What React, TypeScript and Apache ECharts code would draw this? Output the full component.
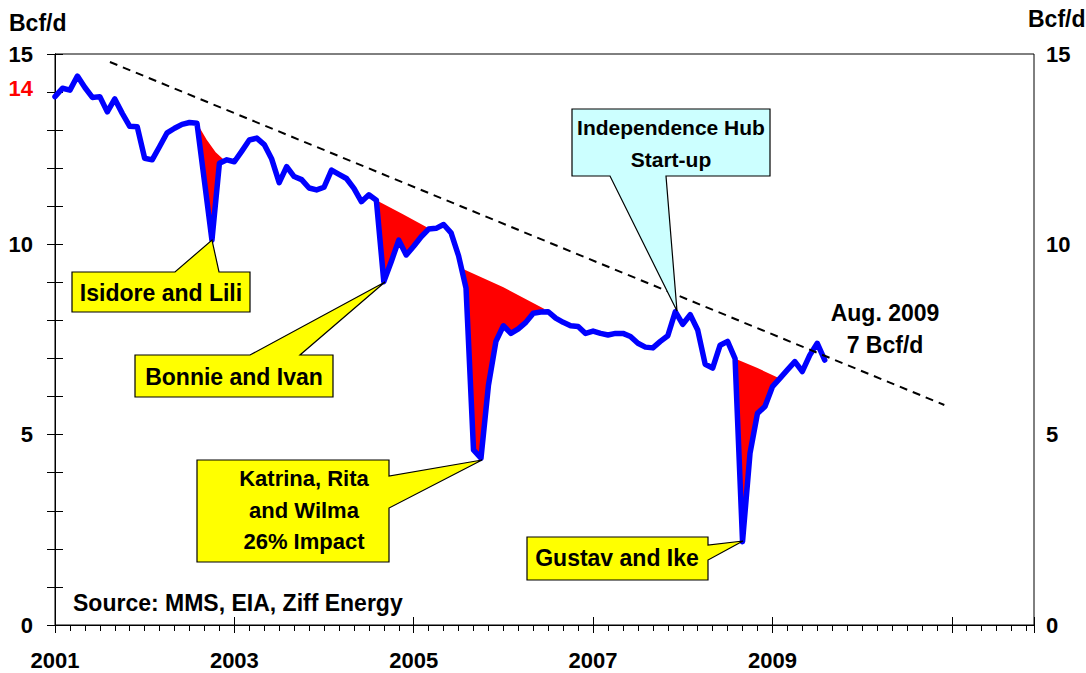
import { useEffect, useRef } from 'react';
import * as echarts from 'echarts';

// Monthly Gulf of Mexico gas production, Bcf/d, Jan 2001 .. Aug 2009 (month index 0 = Jan 2001)
const production = [
  13.88, 14.10, 14.05, 14.42, 14.12, 13.86, 13.88, 13.48, 13.82, 13.44, 13.10, 13.09, // 2001
  12.26, 12.22, 12.57, 12.93, 13.05, 13.15, 13.20, 13.18, 11.65, 10.11, 12.13, 12.22, // 2002
  12.17, 12.45, 12.74, 12.79, 12.62, 12.24, 11.62, 12.04, 11.78, 11.70, 11.48, 11.43, // 2003
  11.50, 11.95, 11.84, 11.73, 11.47, 11.12, 11.30, 11.16, 9.02, 9.55, 10.11, 9.72, // 2004
  9.95, 10.20, 10.40, 10.42, 10.52, 10.30, 9.70, 8.85, 4.60, 4.38, 6.30, 7.45, // 2005
  7.86, 7.66, 7.78, 7.95, 8.19, 8.22, 8.23, 8.06, 7.95, 7.86, 7.84, 7.66, // 2006
  7.72, 7.66, 7.62, 7.66, 7.66, 7.58, 7.40, 7.30, 7.28, 7.45, 7.60, 8.23, // 2007
  7.90, 8.15, 7.75, 6.85, 6.75, 7.35, 7.45, 7.00, 2.19, 4.51, 5.56, 5.74, // 2008
  6.26, 6.48, 6.70, 6.92, 6.66, 7.09, 7.40, 6.96, // 2009
];

const yearLabels = ['2001', '2003', '2005', '2007', '2009'];

// dashed decline trend: [month index, Bcf/d]
const trendLine = [
  [7.35, 14.79],
  [119, 5.78],
];

// upper edges of the hurricane production losses (red areas)
const lossLili = [[19, 13.18], [20.3, 12.75], [21.5, 12.42], [22.7, 12.2]];
const lossIvan = [[43, 11.16], [46.5, 10.8], [50, 10.42]];
const lossKatrina = [[54.6, 9.35], [60, 8.87], [65.5, 8.3]];
const lossIke = [[91.2, 6.98], [94, 6.75], [96.7, 6.5]];

const FONT = '"Liberation Sans", Arial, Helvetica, sans-serif';
const TEXT_SIZE = 23;

function lossPolygon(upper: number[][]): number[][] {
  const start = upper[0][0];
  const end = upper[upper.length - 1][0];
  const pts = upper.slice();
  for (let i = Math.floor(end); i > Math.floor(start); i--) {
    pts.push([i, production[i]]);
  }
  return pts;
}

const lossAreas = [lossLili, lossIvan, lossKatrina, lossIke].map(lossPolygon);

function calloutBox(points: number[][], fill: string) {
  return {
    type: 'polygon',
    z: 50,
    shape: { points },
    style: { fill, stroke: '#000', lineWidth: 1.2 },
  };
}

function label(text: string, x: number, y: number, align = 'center', lineHeight = 32, size = TEXT_SIZE, color = '#000') {
  return {
    type: 'text',
    z: 60,
    x,
    y,
    style: {
      text,
      fill: color,
      font: `bold ${size}px ${FONT}`,
      textAlign: align,
      align,
      textVerticalAlign: 'middle',
      verticalAlign: 'middle',
      lineHeight,
    },
  };
}

export default function App() {
  const ref = useRef<HTMLDivElement>(null);

  useEffect(() => {
    if (!ref.current) return;
    const chart = echarts.init(ref.current, undefined, { renderer: 'svg' });

    const axisFont = { fontFamily: FONT, fontWeight: 'bold' as const, fontSize: 22, color: '#000' };

    const xBase = { type: 'value' as const, min: 0, max: 131, position: 'bottom' as const, splitLine: { show: false } };

    chart.setOption({
      animation: false,
      backgroundColor: '#fff',
      grid: {
        left: 55,
        right: 52,
        top: 54,
        bottom: 48,
        show: true,
        borderColor: '#000',
        borderWidth: 1,
        backgroundColor: 'transparent',
      },
      xAxis: [
        {
          ...xBase,
          interval: 2,
          axisLine: { show: true, onZero: false, lineStyle: { color: '#000', width: 1 } },
          axisTick: { show: true, length: 6, lineStyle: { color: '#000', width: 1 } },
          axisLabel: { show: false },
        },
        {
          ...xBase,
          interval: 24,
          axisLine: { show: false, onZero: false },
          axisTick: { show: true, length: 8, lineStyle: { color: '#000', width: 1 } },
          axisLabel: {
            ...axisFont,
            margin: 24,
            formatter: (v: number) => {
              const idx = v / 24;
              return Number.isInteger(idx) && idx < yearLabels.length ? yearLabels[idx] : '';
            },
          },
        },
        {
          ...xBase,
          interval: 24,
          axisLine: { show: false, onZero: false },
          axisTick: { show: true, inside: true, length: 8, lineStyle: { color: '#000', width: 1 } },
          axisLabel: { show: false },
        },
      ],
      yAxis: [
        {
          type: 'value',
          position: 'left',
          min: 0,
          max: 15,
          interval: 1,
          splitLine: { show: false },
          axisLine: { show: true, lineStyle: { color: '#000', width: 1 } },
          axisTick: { show: true, length: 8, lineStyle: { color: '#000' } },
          axisLabel: {
            ...axisFont,
            margin: 22,
            formatter: (v: number) => (v % 5 === 0 ? String(v) : v === 14 ? '{r|14}' : ''),
            rich: {
              r: { color: '#ff0000', fontFamily: FONT, fontWeight: 'bold', fontSize: 22, padding: [0, 0, 8, 0] },
            },
          },
        },
        {
          type: 'value',
          position: 'right',
          min: 0,
          max: 15,
          interval: 1,
          splitLine: { show: false },
          axisLine: { show: true, lineStyle: { color: '#000', width: 1 } },
          axisTick: { show: true, length: 8, lineStyle: { color: '#000' } },
          axisLabel: {
            ...axisFont,
            margin: 12,
            formatter: (v: number) => (v % 5 === 0 ? String(v) : ''),
          },
        },
      ],
      series: [
        {
          type: 'custom',
          name: 'Hurricane losses',
          xAxisIndex: 0,
          yAxisIndex: 0,
          z: 2,
          data: lossAreas.map((_, i) => [i, 0]),
          renderItem: (params: any, api: any) => {
            const poly = lossAreas[params.dataIndex];
            return {
              type: 'polygon',
              shape: { points: poly.map((p) => api.coord(p)) },
              style: { fill: '#ff0000' },
            };
          },
        },
        {
          type: 'line',
          name: 'Production',
          xAxisIndex: 0,
          yAxisIndex: 0,
          z: 3,
          symbol: 'none',
          data: production.map((v, i) => [i, v]),
          lineStyle: { color: '#0000ff', width: 5.5, join: 'round', cap: 'round' },
        },
        {
          type: 'line',
          name: 'Trend',
          xAxisIndex: 0,
          yAxisIndex: 0,
          z: 4,
          symbol: 'none',
          data: trendLine,
          lineStyle: { color: '#000', width: 2, type: [8, 6] },
        },
      ],
      graphic: [
        label('Bcf/d', 9, 23, 'left'),
        label('Bcf/d', 1028, 19, 'left'),
        label('Source: MMS, EIA, Ziff Energy', 73, 603, 'left'),
        calloutBox(
          [[72, 272], [175, 272], [212, 240], [219, 272], [250, 272], [250, 312], [72, 312]],
          '#ffff00'
        ),
        label('Isidore and Lili', 161, 293),
        calloutBox(
          [[135, 355], [250, 355], [385, 282], [300, 355], [333, 355], [333, 397], [135, 397]],
          '#ffff00'
        ),
        label('Bonnie and Ivan', 234, 377),
        calloutBox(
          [[197, 460], [389, 460], [389, 476], [482, 460], [389, 508], [389, 562], [197, 562]],
          '#ffff00'
        ),
        label('Katrina, Rita\nand Wilma\n26% Impact', 304, 510, 'center', 31.5, 22),
        calloutBox(
          [[527, 537], [708, 537], [708, 545], [743, 541], [708, 560], [708, 580], [527, 580]],
          '#ffff00'
        ),
        label('Gustav and Ike', 617, 558),
        calloutBox(
          [[572, 109], [770, 109], [770, 176], [666, 176], [677, 311], [610, 176], [572, 176]],
          '#ccffff'
        ),
        label('Independence Hub\nStart-up', 671, 143, 'center', 32, 21),
        label('Aug. 2009\n7 Bcf/d', 885, 329),
      ],
    });

    return () => chart.dispose();
  }, []);

  return (
    <div
      ref={ref}
      style={{ position: 'absolute', left: 0, top: 0, width: 1086, height: 673, background: '#fff' }}
    />
  );
}
